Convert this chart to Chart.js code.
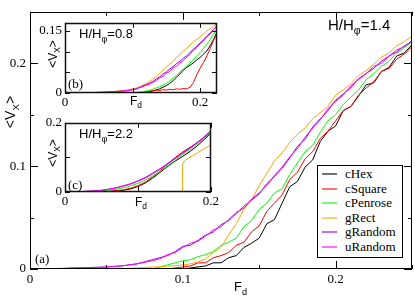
<!DOCTYPE html>
<html>
<head>
<meta charset="utf-8">
<script src="https://cdn.jsdelivr.net/npm/chart.js@4.4.0/dist/chart.umd.min.js"></script>
<style>
  body { margin: 0; background: #fff; }
  #wrap { position: relative; width: 415px; height: 297px; overflow: hidden; background: #fff; }
  canvas { position: absolute; }
  .lbl { position: absolute; white-space: nowrap; line-height: 1; color: #000; }
  .sans { font-family: 'Liberation Sans', Arial, sans-serif; }
  .serif { font-family: 'Liberation Serif', 'Times New Roman', serif; }
  .sub { font-size: 70%; position: relative; top: 0.4em; }
  .rot { transform: translate(-50%, -50%) rotate(-90deg); }
  #legend { position: absolute; left: 317px; top: 165px; width: 84px; height: 91px;
            border: 1px solid #000; background: #fff; }
  #legend .row { position: absolute; left: 0; height: 14px; width: 84px; }
  #legend .sw { position: absolute; left: 4px; top: 6px; width: 15px; height: 2px; opacity: 0.55; }
  #legend .txt { position: absolute; left: 27px; top: 0; font-size: 13px; line-height: 14px; }
</style>
</head>
<body>
<div id="wrap">
  <canvas id="mainChart" width="415" height="297" style="left:0;top:0"></canvas>
  <canvas id="insetB" width="188" height="100" style="left:33px;top:12px"></canvas>
  <canvas id="insetC" width="188" height="100" style="left:33px;top:112px"></canvas>

  <div class="lbl sans rot" style="left:10px;top:112px;font-size:14px">&lt;V<span class="sub">X</span>&gt;</div>
  <div class="lbl sans" style="left:234px;top:280px;font-size:13px">F<span class="sub">d</span></div>
  <div class="lbl sans" style="left:328px;top:17px;font-size:15px">H/H<span class="sub">φ</span>=1.4</div>
  <div class="lbl serif" style="left:35px;top:252px;font-size:13px">(a)</div>

  <div class="lbl sans rot" style="left:53px;top:54px;font-size:12px">&lt;V<span class="sub">X</span>&gt;</div>
  <div class="lbl sans" style="left:130px;top:95px;font-size:12px">F<span class="sub">d</span></div>
  <div class="lbl sans" style="left:79px;top:27px;font-size:13px">H/H<span class="sub">φ</span>=0.8</div>
  <div class="lbl serif" style="left:68px;top:77px;font-size:13px">(b)</div>

  <div class="lbl sans rot" style="left:53px;top:153px;font-size:12px">&lt;V<span class="sub">X</span>&gt;</div>
  <div class="lbl sans" style="left:135px;top:196px;font-size:12px">F<span class="sub">d</span></div>
  <div class="lbl sans" style="left:79px;top:127px;font-size:13px">H/H<span class="sub">φ</span>=2.2</div>
  <div class="lbl serif" style="left:68px;top:178px;font-size:13px">(c)</div>

  <div id="legend"></div>
</div>
<script>
// series names and colours
const seriesNames = ['cHex', 'cSquare', 'cPenrose', 'gRect', 'gRandom', 'uRandom'];
const seriesColors = ['#000000', '#ff0000', '#00ff00', '#ffa500', '#9400d3', '#ff00ff'];

// main panel (a), H/Hphi = 1.4
const mainF = [0, 0.01, 0.02, 0.03, 0.04, 0.05, 0.06, 0.07, 0.08, 0.085, 0.09, 0.095,
  0.1, 0.105, 0.11, 0.115, 0.12, 0.125, 0.13, 0.135, 0.14, 0.145,
  0.15, 0.155, 0.16, 0.165, 0.17, 0.175, 0.18, 0.185, 0.19, 0.195,
  0.2, 0.205, 0.21, 0.215, 0.22, 0.225, 0.23, 0.235, 0.24, 0.245, 0.25];
const mainHex = [0, 0, 0, 0, 0, 0, 0, 0, 0, 0, 0, 0,
  0, 0.001, 0.002, 0.003, 0.006, 0.006, 0.011, 0.013, 0.021, 0.025,
  0.030, 0.044, 0.048, 0.064, 0.080, 0.085, 0.099, 0.106, 0.124, 0.134,
  0.139, 0.154, 0.158, 0.168, 0.179, 0.181, 0.192, 0.196, 0.207, 0.210, 0.218];
const mainSquare = [0, 0, 0, 0, 0, 0, 0, 0, 0, 0, 0, 0.001,
  0.002, 0.003, 0.006, 0.006, 0.011, 0.013, 0.016, 0.023, 0.026, 0.036,
  0.042, 0.056, 0.064, 0.072, 0.087, 0.094, 0.107, 0.114, 0.127, 0.134,
  0.144, 0.154, 0.158, 0.169, 0.176, 0.182, 0.192, 0.195, 0.204, 0.209, 0.216];
const mainPenrose = [0, 0, 0, 0, 0, 0, 0, 0, 0, 0.002, 0.004, 0.006,
  0.008, 0.009, 0.012, 0.014, 0.017, 0.023, 0.026, 0.030, 0.041, 0.047,
  0.058, 0.064, 0.074, 0.078, 0.092, 0.103, 0.114, 0.120, 0.133, 0.144,
  0.150, 0.160, 0.167, 0.174, 0.184, 0.190, 0.197, 0.202, 0.210, 0.215, 0.221];
const mainRect = [0, 0, 0, 0, 0, 0, 0.0005, 0.001, 0.002, 0.002, 0.003, 0.003,
  0.004, 0.005, 0.007, 0.010, 0.016, 0.021, 0.033, 0.044, 0.058, 0.067,
  0.081, 0.093, 0.105, 0.113, 0.123, 0.131, 0.137, 0.146, 0.152, 0.158,
  0.169, 0.174, 0.180, 0.188, 0.193, 0.199, 0.206, 0.210, 0.217, 0.221, 0.226];
const mainGRandom = [0, 0, 0.0005, 0.001, 0.0015, 0.002, 0.003, 0.005, 0.009, 0.011, 0.013, 0.017,
  0.022, 0.023, 0.028, 0.033, 0.036, 0.043, 0.047, 0.054, 0.061, 0.067,
  0.073, 0.083, 0.090, 0.098, 0.108, 0.119, 0.126, 0.138, 0.146, 0.154,
  0.164, 0.170, 0.176, 0.185, 0.190, 0.195, 0.202, 0.207, 0.211, 0.217, 0.221];
const mainURandom = [0, 0, 0.0005, 0.001, 0.001, 0.002, 0.003, 0.005, 0.008, 0.010, 0.014, 0.016,
  0.021, 0.025, 0.027, 0.032, 0.038, 0.041, 0.048, 0.055, 0.059, 0.068,
  0.074, 0.081, 0.091, 0.099, 0.109, 0.117, 0.128, 0.137, 0.145, 0.156,
  0.163, 0.169, 0.178, 0.184, 0.190, 0.197, 0.200, 0.207, 0.213, 0.216, 0.222];

// inset (b), H/Hphi = 0.8
const bF = [0, 0.02, 0.04, 0.06, 0.08, 0.09,
  0.1, 0.105, 0.11, 0.115, 0.12, 0.125, 0.13, 0.135, 0.14, 0.145,
  0.15, 0.155, 0.16, 0.165, 0.17, 0.175, 0.18, 0.185, 0.19, 0.195,
  0.2, 0.205, 0.21, 0.215, 0.22, 0.225];
const bHex = [0, 0, 0, 0, 0, 0,
  0, 0, 0, 0.001, 0.002, 0.003, 0.005, 0.007, 0.010, 0.014,
  0.018, 0.023, 0.030, 0.038, 0.046, 0.055, 0.062, 0.067, 0.073, 0.080,
  0.086, 0.094, 0.102, 0.115, 0.130, 0.147];
const bSquare = [0, 0, 0, 0, 0, 0,
  0, 0, 0, 0.001, 0.003, 0.005, 0.006, 0.007, 0.006, 0.008,
  0.007, 0.009, 0.008, 0.010, 0.009, 0.011, 0.010, 0.014, 0.025, 0.044,
  0.060, 0.074, 0.090, 0.108, 0.128, 0.145];
const bPenrose = [0, 0, 0, 0, 0, 0,
  0, 0.001, 0.002, 0.003, 0.005, 0.006, 0.009, 0.012, 0.015, 0.019,
  0.023, 0.029, 0.036, 0.042, 0.050, 0.058, 0.065, 0.072, 0.080, 0.090,
  0.098, 0.108, 0.118, 0.130, 0.142, 0.156];
const bRect = [0, 0, 0.001, 0.002, 0.005, 0.007,
  0.010, 0.012, 0.015, 0.019, 0.023, 0.028, 0.034, 0.040, 0.048, 0.055,
  0.063, 0.070, 0.076, 0.086, 0.093, 0.101, 0.108, 0.116, 0.124, 0.130,
  0.136, 0.143, 0.150, 0.156, 0.162, 0.168];
const bGRandom = [0, 0, 0.001, 0.002, 0.004, 0.005,
  0.008, 0.010, 0.013, 0.017, 0.020, 0.024, 0.028, 0.034, 0.039, 0.046,
  0.051, 0.058, 0.064, 0.071, 0.077, 0.084, 0.090, 0.098, 0.106, 0.113,
  0.121, 0.129, 0.137, 0.146, 0.154, 0.163];
const bURandom = [0, 0, 0.001, 0.002, 0.004, 0.005,
  0.008, 0.009, 0.013, 0.015, 0.019, 0.021, 0.026, 0.030, 0.037, 0.040,
  0.048, 0.052, 0.061, 0.065, 0.073, 0.078, 0.087, 0.093, 0.104, 0.110,
  0.119, 0.126, 0.136, 0.143, 0.154, 0.162];

// inset (c), H/Hphi = 2.2
const cF = [0, 0.01, 0.02, 0.03, 0.04, 0.05, 0.06, 0.07, 0.08, 0.09, 0.1,
  0.11, 0.12, 0.13, 0.14, 0.15, 0.16, 0.17, 0.18, 0.19, 0.2];
const cHex = [0, 0, 0, 0, 0, 0, 0.001, 0.003, 0.005, 0.009, 0.016,
  0.026, 0.040, 0.056, 0.073, 0.088, 0.101, 0.115, 0.131, 0.150, 0.170];
const cSquare = [0, 0, 0, 0, 0, 0.001, 0.002, 0.004, 0.006, 0.011, 0.018,
  0.028, 0.043, 0.060, 0.080, 0.098, 0.114, 0.127, 0.141, 0.156, 0.174];
const cPenrose = [0, 0, 0, 0, 0.001, 0.003, 0.005, 0.008, 0.012, 0.018, 0.025,
  0.034, 0.046, 0.059, 0.075, 0.090, 0.106, 0.121, 0.137, 0.154, 0.173];
const cRectF = [0, 0.13, 0.15, 0.1605, 0.161, 0.164, 0.17, 0.18, 0.19, 0.2];
const cRect = [0, 0, 0.001, 0, 0.08, 0.09, 0.099, 0.111, 0.124, 0.137];
const cGRandom = [0, 0, 0.001, 0.002, 0.003, 0.005, 0.008, 0.012, 0.018, 0.024, 0.032,
  0.042, 0.054, 0.067, 0.081, 0.096, 0.111, 0.126, 0.141, 0.158, 0.177];
const cURandom = [0, 0, 0.001, 0.002, 0.003, 0.005, 0.008, 0.012, 0.017, 0.023, 0.031,
  0.040, 0.052, 0.065, 0.079, 0.095, 0.110, 0.124, 0.140, 0.156, 0.176];

// tick labels
const mainXLabels = [0, 0.1, 0.2];
const mainYLabels = [0, 0.1, 0.2];
const bXLabels = [0, 0.2];
const bYLabels = [0, 0.15];
const cXLabels = [0, 0.2];
const cYLabels = [0, 0.2];

function pts(xs, ys) {
  return xs.map((x, i) => ({ x: x, y: ys[i] }));
}

function near(a, b) {
  return Math.abs(a - b) < 1e-6;
}

function isMultiple(v, m) {
  return Math.abs(v / m - Math.round(v / m)) < 1e-6;
}

function labelFor(v, list) {
  const hit = list.find(l => near(l, v));
  return hit === undefined ? '' : String(hit);
}

// frame on all four sides + inward tick marks
const frameTicks = {
  id: 'frameTicks',
  beforeDraw(chart, args, o) {
    if (!o.fill) return;
    const a = chart.chartArea;
    chart.ctx.save();
    chart.ctx.fillStyle = '#fff';
    chart.ctx.fillRect(a.left, a.top, a.right - a.left, a.bottom - a.top);
    chart.ctx.restore();
  },
  afterDatasetsDraw(chart, args, o) {
    const ctx = chart.ctx;
    const a = chart.chartArea;
    const sx = chart.scales.x;
    const sy = chart.scales.y;
    ctx.save();
    ctx.strokeStyle = o.color;
    ctx.lineWidth = 1;
    ctx.beginPath();
    sx.ticks.forEach(t => {
      const p = Math.round(sx.getPixelForValue(t.value)) + 0.5;
      const len = isMultiple(t.value, o.xMajor) ? o.major : o.minor;
      ctx.moveTo(p, a.bottom);
      ctx.lineTo(p, a.bottom - len);
      ctx.moveTo(p, a.top);
      ctx.lineTo(p, a.top + len);
    });
    sy.ticks.forEach(t => {
      const p = Math.round(sy.getPixelForValue(t.value)) + 0.5;
      const len = isMultiple(t.value, o.yMajor) ? o.major : o.minor;
      ctx.moveTo(a.left, p);
      ctx.lineTo(a.left + len, p);
      ctx.moveTo(a.right, p);
      ctx.lineTo(a.right - len, p);
    });
    ctx.stroke();
    ctx.lineWidth = o.frameWidth;
    ctx.strokeRect(Math.round(a.left) + 0.5, Math.round(a.top) + 0.5,
      Math.round(a.right - a.left) - 1, Math.round(a.bottom - a.top) - 1);
    ctx.restore();
  }
};

function makeDatasets(list) {
  // first dataset is drawn on top in Chart.js, so reverse
  return list.map((d, i) => ({
    label: seriesNames[i],
    data: d,
    borderColor: seriesColors[i],
    backgroundColor: seriesColors[i],
    borderWidth: 1,
    pointRadius: 0,
    fill: false,
    tension: 0
  })).reverse();
}

function makeChart(id, datasets, o) {
  return new Chart(document.getElementById(id), {
    type: 'line',
    data: { datasets: datasets },
    options: {
      responsive: false,
      animation: false,
      devicePixelRatio: 1,
      layout: { padding: o.pad },
      plugins: {
        legend: { display: false },
        tooltip: { enabled: false },
        frameTicks: {
          color: o.frameColor, frameWidth: o.frameWidth, fill: o.fill,
          major: o.major, minor: o.minor, xMajor: o.xMajor, yMajor: o.yMajor
        }
      },
      scales: {
        x: {
          type: 'linear', min: 0, max: o.xMax,
          grid: { display: false, drawTicks: false },
          border: { display: false },
          ticks: {
            stepSize: o.xStep, includeBounds: false, autoSkip: false, maxRotation: 0,
            padding: o.xPad, color: '#000',
            font: { family: 'Liberation Serif', size: 13 },
            callback: v => labelFor(v, o.xLabels)
          },
          afterFit: s => { s.height = o.xH; }
        },
        y: {
          type: 'linear', min: 0, max: o.yMax,
          grid: { display: false, drawTicks: false },
          border: { display: false },
          ticks: {
            stepSize: o.yStep, includeBounds: false, autoSkip: false,
            padding: o.yPad, color: '#000',
            font: { family: 'Liberation Serif', size: 13 },
            callback: v => labelFor(v, o.yLabels)
          },
          afterFit: s => { s.width = o.yW; }
        }
      }
    },
    plugins: [frameTicks]
  });
}

makeChart('mainChart', makeDatasets([
  pts(mainF, mainHex), pts(mainF, mainSquare), pts(mainF, mainPenrose),
  pts(mainF, mainRect), pts(mainF, mainGRandom), pts(mainF, mainURandom)
]), {
  pad: { left: 0, right: 2, top: 2, bottom: 0 },
  xMax: 0.25, yMax: 0.25, xStep: 0.05, yStep: 0.05,
  xLabels: mainXLabels, yLabels: mainYLabels,
  xH: 28, yW: 30, xPad: 3, yPad: 4,
  frameColor: '#000', frameWidth: 1, fill: false,
  major: 8, minor: 4, xMajor: 0.1, yMajor: 0.1
});

makeChart('insetB', makeDatasets([
  pts(bF, bHex), pts(bF, bSquare), pts(bF, bPenrose),
  pts(bF, bRect), pts(bF, bGRandom), pts(bF, bURandom)
]), {
  pad: { left: 0, right: 4, top: 4, bottom: 0 },
  xMax: 0.225, yMax: 0.17, xStep: 0.1, yStep: 0.05,
  xLabels: bXLabels, yLabels: bYLabels,
  xH: 19, yW: 32, xPad: 2, yPad: 3,
  frameColor: '#111', frameWidth: 1.5, fill: true,
  major: 5, minor: 5, xMajor: 0.1, yMajor: 0.05
});

makeChart('insetC', makeDatasets([
  pts(cF, cHex), pts(cF, cSquare), pts(cF, cPenrose),
  pts(cRectF, cRect), pts(cF, cGRandom), pts(cF, cURandom)
]), {
  pad: { left: 0, right: 4, top: 4, bottom: 0 },
  xMax: 0.2, yMax: 0.2, xStep: 0.1, yStep: 0.1,
  xLabels: cXLabels, yLabels: cYLabels,
  xH: 20, yW: 32, xPad: 2, yPad: 3,
  frameColor: '#111', frameWidth: 1.5, fill: true,
  major: 5, minor: 5, xMajor: 0.1, yMajor: 0.1
});

// legend
const legend = document.getElementById('legend');
seriesNames.forEach((name, i) => {
  const row = document.createElement('div');
  row.className = 'row';
  row.style.top = (1 + i * 14.6) + 'px';
  const sw = document.createElement('div');
  sw.className = 'sw';
  sw.style.background = seriesColors[i];
  const txt = document.createElement('div');
  txt.className = 'txt serif';
  txt.textContent = name;
  row.appendChild(sw);
  row.appendChild(txt);
  legend.appendChild(row);
});
</script>
</body>
</html>
